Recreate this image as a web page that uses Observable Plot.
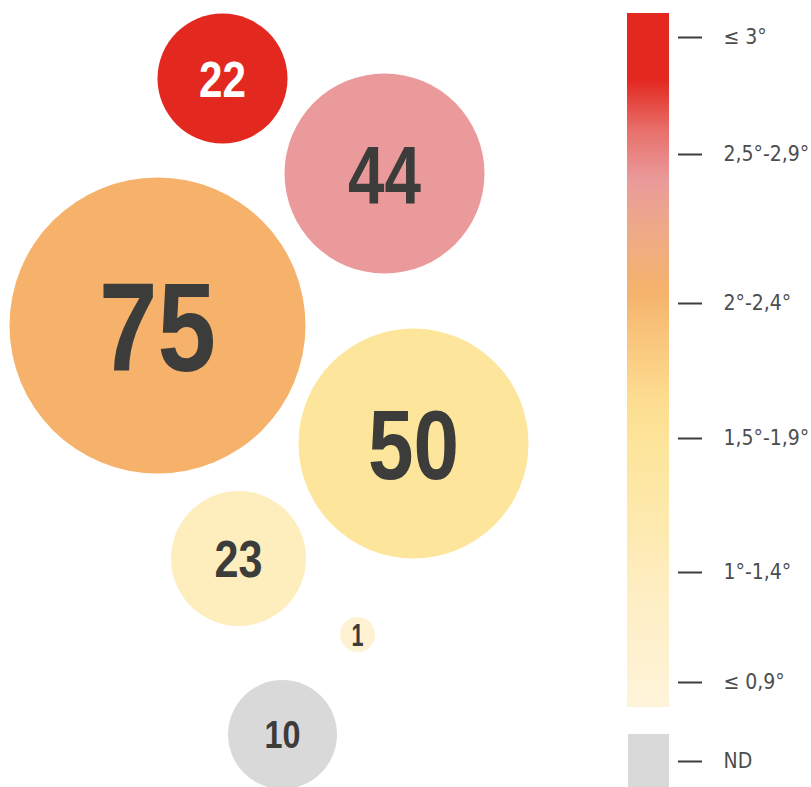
<!DOCTYPE html>
<html>
<head>
<meta charset="utf-8">
<script src="https://cdn.jsdelivr.net/npm/d3@7"></script>
<script src="https://cdn.jsdelivr.net/npm/@observablehq/plot@0.6"></script>
<style>
  html, body { margin: 0; padding: 0; background: #fff; }
  #chart svg { display: block; }
</style>
</head>
<body>
<div id="chart"></div>
<script>
// ---------- DATA ----------
const classes = ["≤ 3°", "2,5°-2,9°", "2°-2,4°", "1,5°-1,9°", "1°-1,4°", "≤ 0,9°", "ND"];
const counts  = [22, 44, 75, 50, 23, 1, 10];

// ---------- LAYOUT (hand-arranged bubble cluster & legend) ----------
const bubbleX = [222, 384, 157, 413, 238, 357, 282];
const bubbleY = [78, 173, 325, 443, 558, 634, 734];
const legendY = [37, 154, 303, 438, 572, 682, 761];

// ---------- STYLE ----------
const classColors = ["#e3281f", "#eb9a9b", "#f6b26b", "#fde69c", "#feedbd", "#fef2d2", "#d9d9d9"];
const labelColors = ["#ffffff", "#3c3c3b", "#3c3c3b", "#3c3c3b", "#3c3c3b", "#3c3c3b", "#3c3c3b"];
const labelSizes  = [50, 82, 127, 98, 52, 31, 38];
const labelWidths = [47, 73, 117, 91, 48, 12, 36];
const gradStops   = [13, 80, 130, 180, 230, 290, 340, 400, 438, 500, 600, 707];
const gradColors  = ["#e3281f", "#e3281f", "#e8706a", "#ea9a9b", "#eeaa88", "#f5b26c", "#f9c67d",
                     "#fddd90", "#fde499", "#fde8a8", "#feeec4", "#fef4da"];
const boldFont = "'Liberation Sans', Arial, Helvetica, sans-serif";
const legendFont = "'DejaVu Sans Condensed', 'Liberation Sans', sans-serif";

const bubbles = classes.map((c, i) => ({
  cls: c, count: counts[i], x: bubbleX[i], y: bubbleY[i],
  color: classColors[i], labelColor: labelColors[i], fs: labelSizes[i], tw: labelWidths[i]
}));

const gradScale = d3.scaleLinear().domain(gradStops).range(gradColors).interpolate(d3.interpolateRgb);
const gradTop = gradStops[0], gradBottom = gradStops[gradStops.length - 1];
const slices = d3.range(gradTop, gradBottom).map(v => ({y1: v, y2: Math.min(v + 1.5, gradBottom), color: gradScale(v + 0.5)}));

const legend = classes.map((c, i) => ({label: c, y: legendY[i]}));
const ndBox = [{y1: 734, y2: 787, color: classColors[6]}];

const chart = Plot.plot({
  width: 811,
  height: 787,
  margin: 0,
  x: {domain: [0, 811], range: [0, 811], axis: null},
  y: {domain: [0, 787], range: [0, 787], axis: null},
  r: {type: "linear", domain: [1, 10, 22, 23, 44, 50, 75], range: [17.5, 54.5, 65, 67.5, 100, 115, 148]},
  marks: [
    Plot.dot(bubbles, {x: "x", y: "y", r: "count", fill: "color", stroke: null}),
    Plot.text(bubbles, {
      x: "x", y: "y", text: d => String(d.count),
      fontSize: d => d.fs, fill: "labelColor",
      fontWeight: "bold", fontFamily: boldFont
    }),
    Plot.rect(slices, {x1: () => 627, x2: () => 669, y1: "y1", y2: "y2", fill: "color"}),
    Plot.rect(ndBox, {x1: () => 628, x2: () => 669, y1: "y1", y2: "y2", fill: "color"}),
    Plot.ruleY(legend, {y: "y", x1: () => 678, x2: () => 702, stroke: "#3c3c3b", strokeWidth: 2}),
    Plot.text(legend, {
      x: () => 723, y: "y", text: "label", textAnchor: "start",
      fontSize: 21, fill: "#4d4d4d", fontFamily: legendFont
    })
  ]
});

// condense the bubble labels (Helvetica Condensed look) and centre the digits
const textGroups = chart.querySelectorAll('g[aria-label="text"]');
if (textGroups.length) {
  const labels = textGroups[0].querySelectorAll("text");
  labels.forEach((t, i) => {
    const b = bubbles[i];
    if (!b) return;
    t.setAttribute("textLength", b.tw);
    t.setAttribute("lengthAdjust", "spacingAndGlyphs");
    t.setAttribute("dy", "0.04em");
  });
}
document.getElementById("chart").appendChild(chart);
</script>
</body>
</html>
